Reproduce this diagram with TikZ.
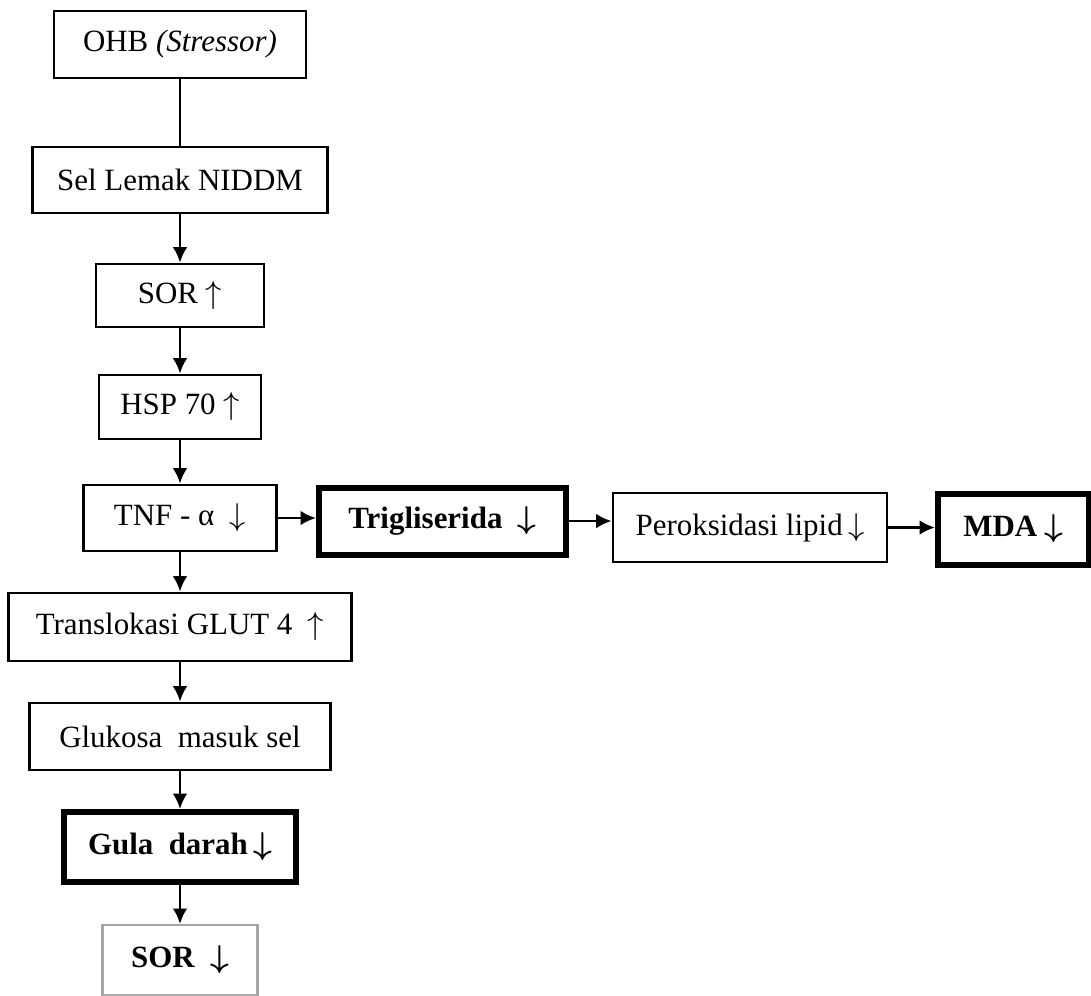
\documentclass[tikz,border=0pt]{standalone}
\usepackage{amsmath}
\usepackage{bm}
\usepackage{fontspec}
\setmainfont{Liberation Serif}
\usetikzlibrary{arrows,arrows.meta,positioning}
\tikzstyle{bS}=[rectangle,draw,line width=0.8pt,inner sep=0pt,font=\fontsize{8.8}{10}\selectfont,align=center]
\tikzstyle{bThick}=[bS,line width=1.7pt,font=\fontsize{8.8}{10}\selectfont\bfseries]
\tikzstyle{bLight}=[bS,draw=black!35,line width=0.6pt,font=\fontsize{8.8}{10}\selectfont\bfseries]
\tikzstyle{eArr}=[-{Latex[length=4.4pt,width=4.2pt]},line width=0.8pt]
\tikzstyle{eLine}=[line width=0.7pt]

\begin{document}
\begin{tikzpicture}[x=1cm,y=-1cm]
                \useasboundingbox (0,0) rectangle (10.91,9.95);
                % main column
                \draw (1.80,0.445) node[bS,minimum width=2.52cm,minimum height=0.67cm] (ohb) {OHB \textit{(Stressor)}};
                \draw (1.80,1.80) node[bS,minimum width=2.95cm,minimum height=0.66cm] (sel) {Sel Lemak NIDDM};
                \draw (1.80,2.955) node[bS,minimum width=1.68cm,minimum height=0.63cm] (sor1) {SOR $\uparrow$};
                \draw (1.80,4.07) node[bS,minimum width=1.62cm,minimum height=0.64cm] (hsp) {HSP 70 $\uparrow$};
                \draw (1.80,5.18) node[bS,minimum width=1.93cm,minimum height=0.66cm] (tnf) {TNF - α\ \ $\downarrow$};
                \draw (1.80,6.27) node[bS,minimum width=3.43cm,minimum height=0.68cm] (glut) {Translokasi GLUT 4\ \ $\uparrow$};
                \draw (1.80,7.365) node[bS,minimum width=3.01cm,minimum height=0.67cm] (gluk) {Glukosa\ \ masuk sel};
                \draw (1.80,8.47) node[bThick,minimum width=2.32cm,minimum height=0.70cm] (gula) {Gula\ \ darah$\,\bm{\downarrow}$};
                \draw (1.80,9.60) node[bLight,minimum width=1.55cm,minimum height=0.70cm] (sor2) {SOR\ \ $\bm{\downarrow}$};
                % side row
                \draw (4.425,5.21) node[bThick,minimum width=2.47cm,minimum height=0.67cm] (trig) {Trigliserida\ \ $\bm{\downarrow}$};
                \draw (7.50,5.275) node[bS,minimum width=2.74cm,minimum height=0.69cm] (perok) {Peroksidasi lipid$\,\downarrow$};
                \draw (10.135,5.29) node[bThick,minimum width=1.51cm,minimum height=0.71cm] (mda) {MDA\ $\bm{\downarrow}$};
                \path
                    (ohb) edge[eLine] (sel)
                    (sel) edge[eArr] (sor1)
                    (sor1) edge[eArr] (hsp)
                    (hsp) edge[eArr] (tnf)
                    (tnf) edge[eArr] (glut)
                    (glut) edge[eArr] (gluk)
                    (gluk) edge[eArr] (gula)
                    (gula) edge[eArr] (sor2)
                    (tnf.east) edge[eArr] (tnf.east -| trig.west)
                    (trig.east) edge[eArr] (trig.east -| perok.west)
                    (perok.east) edge[eArr] (perok.east -| mda.west)
                ;
\end{tikzpicture}
\end{document}
